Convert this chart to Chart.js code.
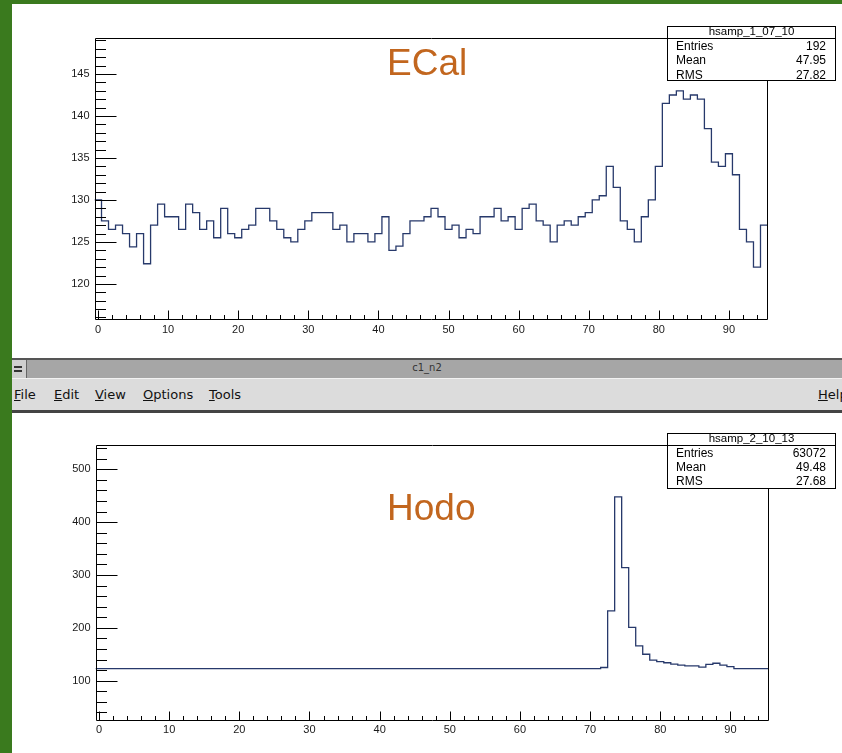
<!DOCTYPE html>
<html>
<head>
<meta charset="utf-8">
<script src="https://cdn.jsdelivr.net/npm/chart.js@4.4.1/dist/chart.umd.min.js"></script>
<style>
  html, body { margin: 0; padding: 0; }
  body {
    width: 842px; height: 753px; position: relative; overflow: hidden;
    background: #3a7a1e;
    font-family: "Liberation Sans", Arial, sans-serif;
  }
  .lienzo { position: absolute; left: 12px; width: 830px; background: #fff; }
  .lienzo canvas { position: absolute; left: 0; top: 0; }
  .etiqueta {
    position: absolute; font-size: 37px; line-height: 37px; color: #c2661e;
    white-space: nowrap;
  }
  .stats {
    position: absolute; width: 169px; background: #fff; border: 1px solid #000;
    box-sizing: border-box; font-size: 12px; color: #000;
  }
  .stats .tit {
    height: 11px; line-height: 9px; text-align: center; border-bottom: 1px solid #000;
    font-size: 11.5px;
  }
  .stats .fila {
    display: flex; justify-content: space-between; height: 14.3px; line-height: 14.3px;
    padding: 0 9px 0 8px;
  }
  .barraTitulo {
    position: absolute; left: 12px; top: 358px; width: 830px; height: 20px;
    background: #a6a6a6; border-top: 2px solid #555; box-sizing: border-box;
  }
  .barraTitulo .icono {
    position: absolute; left: 0; top: 0; width: 14px; height: 18px;
    background: #cfcfcf; border-right: 1px solid #666;
  }
  .barraTitulo .icono i { position: absolute; left: 2px; width: 8px; height: 2px; background: #333; }
  .barraTitulo .nombre {
    position: absolute; left: 0; width: 100%; top: 2px; text-align: center;
    font-family: "DejaVu Sans", sans-serif; font-size: 10px; color: #333;
  }
  .menu {
    position: absolute; left: 12px; top: 378px; width: 830px; height: 35px;
    background: #dcdcdc; border-top: 1px solid #f2f2f2; border-bottom: 3px solid #444;
    box-sizing: border-box;
  }
  .menu span {
    position: absolute; top: 8px; font-family: "DejaVu Sans", sans-serif; font-size: 13px; color: #111;
  }
</style>
</head>
<body>

<div class="lienzo" style="top:4px;height:354px">
  <canvas id="graficoEcal" width="830" height="354"></canvas>
</div>

<div class="barraTitulo">
  <div class="icono"><i style="top:6px"></i><i style="top:10px"></i></div>
  <div class="nombre">c1_n2</div>
</div>
<div class="menu">
  <span style="left:2px"><u>F</u>ile</span>
  <span style="left:42px"><u>E</u>dit</span>
  <span style="left:83px"><u>V</u>iew</span>
  <span style="left:131px"><u>O</u>ptions</span>
  <span style="left:197px"><u>T</u>ools</span>
  <span style="left:806px"><u>H</u>elp</span>
</div>

<div class="lienzo" style="top:413px;height:340px">
  <canvas id="graficoHodo" width="830" height="340"></canvas>
</div>

<div class="etiqueta" style="left:387px;top:43.7px">ECal</div>
<div class="etiqueta" style="left:387px;top:488.5px">Hodo</div>

<div class="stats" style="left:667px;top:26px;height:55px">
  <div class="tit">hsamp_1_07_10</div>
  <div class="fila"><span>Entries</span><span>192</span></div>
  <div class="fila"><span>Mean</span><span>47.95</span></div>
  <div class="fila"><span>RMS</span><span>27.82</span></div>
</div>
<div class="stats" style="left:667px;top:432.5px;height:56px">
  <div class="tit">hsamp_2_10_13</div>
  <div class="fila"><span>Entries</span><span>63072</span></div>
  <div class="fila"><span>Mean</span><span>49.48</span></div>
  <div class="fila"><span>RMS</span><span>27.68</span></div>
</div>

<script>
// canales de muestreo (centro de cada bin, ancho 1)
const canales = Array.from({ length: 96 }, (_, i) => i);

const ecal = [
    130.0, 127.5, 126.5, 127.0, 126.0, 124.4, 126.0, 122.4, 127.0, 129.5,
    128.0, 128.0, 126.5, 129.5, 128.5, 126.5, 127.5, 125.5, 129.0, 126.0,
    125.5, 126.5, 127.0, 129.0, 129.0, 127.5, 126.5, 125.5, 125.0, 126.5,
    127.5, 128.5, 128.5, 128.5, 126.5, 127.0, 125.0, 126.0, 126.0, 125.0,
    126.0, 128.0, 124.0, 124.5, 126.0, 127.5, 127.5, 128.0, 129.0, 128.0,
    126.5, 127.0, 125.5, 126.5, 126.0, 128.0, 128.0, 129.0, 127.5, 128.0,
    126.5, 129.0, 129.5, 127.5, 127.0, 125.0, 127.0, 127.5, 127.0, 128.0,
    128.5, 130.0, 130.5, 134.0, 131.5, 127.5, 126.5, 125.0, 128.0, 130.0,
    134.0, 141.5, 142.5, 143.0, 142.0, 142.5, 142.0, 138.5, 134.5, 134.0,
    135.5, 133.0, 126.5, 125.0, 122.0, 127.0,
];

const hodo = [
    123, 123, 123, 123, 123, 123, 123, 123, 123, 123,
    123, 123, 123, 123, 123, 123, 123, 123, 123, 123,
    123, 123, 123, 123, 123, 123, 123, 123, 123, 123,
    123, 123, 123, 123, 123, 123, 123, 123, 123, 123,
    123, 123, 123, 123, 123, 123, 123, 123, 123, 123,
    123, 123, 123, 123, 123, 123, 123, 123, 123, 123,
    123, 123, 123, 123, 123, 123, 123, 123, 123, 123,
    123, 123, 125, 232, 448, 314, 201, 166, 150, 139,
    136, 134, 131.5, 129.5, 128, 128, 125.5, 131, 133, 129.5,
    126.5, 123, 123, 123, 123, 123,
];

const etiquetasX = [0, 10, 20, 30, 40, 50, 60, 70, 80, 90];
const ecalEtiquetasY = [120, 125, 130, 135, 140, 145];
const hodoEtiquetasY = [100, 200, 300, 400, 500];

const colorLinea = "#27396b";
const fuenteEjes = { family: "'Liberation Sans', Arial, sans-serif", size: 11 };

// puntos en el borde izquierdo de cada bin + cierre en el borde derecho del último
function puntosHisto(valores) {
    const pts = canales.map((c, i) => ({ x: c - 0.5, y: valores[i] }));
    pts.push({ x: canales[canales.length - 1] + 0.5, y: valores[valores.length - 1] });
    return pts;
}

// marco y marcas hacia adentro, al estilo de ROOT
const marcoRoot = {
    id: "marcoRoot",
    afterDatasetsDraw(chart, args, opts) {
        const { ctx, chartArea: area, scales } = chart;
        const izq = Math.round(area.left) + 0.5;
        const der = Math.round(area.right) - 0.5;
        const arr = Math.round(area.top) + 0.5;
        const abj = Math.round(area.bottom) - 0.5;
        ctx.save();
        ctx.strokeStyle = "#000";
        ctx.lineWidth = 1;
        ctx.beginPath();
        ctx.rect(izq, arr, der - izq, abj - arr);

        const y = scales.y;
        for (let k = Math.ceil(y.min / opts.pasoY); k * opts.pasoY <= y.max; k++) {
            const v = k * opts.pasoY;
            const py = Math.round(y.getPixelForValue(v)) + 0.5;
            const largo = opts.mayoresY.includes(v) ? 21 : 10.5;
            ctx.moveTo(izq, py);
            ctx.lineTo(izq + largo, py);
        }
        const x = scales.x;
        for (let k = Math.ceil(x.min / opts.pasoX); k * opts.pasoX <= x.max; k++) {
            const v = k * opts.pasoX;
            const px = Math.round(x.getPixelForValue(v)) + 0.5;
            const largo = etiquetasX.includes(v) ? 9 : 4.5;
            ctx.moveTo(px, abj);
            ctx.lineTo(px, abj - largo);
        }
        ctx.stroke();
        ctx.restore();
    },
};

function opcionesHisto(caja, ejeY) {
    return {
        responsive: false,
        animation: false,
        events: [],
        layout: { padding: { top: caja.arriba, right: caja.derecha, left: 0, bottom: 0 } },
        scales: {
            x: {
                type: "linear",
                bounds: "data",
                min: -0.5,
                max: 95.5,
                afterBuildTicks: (s) => { s.ticks = etiquetasX.map((v) => ({ value: v })); },
                afterFit: (s) => { s.height = caja.altoX; },
                grid: { display: false, drawTicks: false },
                border: { display: false },
                ticks: { font: fuenteEjes, color: "#1a1a1a", padding: 3, maxRotation: 0, autoSkip: false },
            },
            y: {
                type: "linear",
                bounds: "data",
                min: ejeY.min,
                max: ejeY.max,
                afterBuildTicks: (s) => { s.ticks = ejeY.etiquetas.map((v) => ({ value: v })); },
                afterFit: (s) => { s.width = caja.anchoY; },
                grid: { display: false, drawTicks: false },
                border: { display: false },
                ticks: { font: fuenteEjes, color: "#1a1a1a", padding: 5, autoSkip: false },
            },
        },
        plugins: {
            legend: { display: false },
            tooltip: { enabled: false },
            marcoRoot: { pasoX: 2, pasoY: ejeY.paso, mayoresY: ejeY.etiquetas },
        },
    };
}

new Chart(document.getElementById("graficoEcal"), {
    type: "line",
    data: {
        datasets: [
            {
                label: "hsamp_1_07_10",
                data: puntosHisto(ecal),
                stepped: true,
                borderColor: colorLinea,
                borderWidth: 1.3,
                pointRadius: 0,
                fill: false,
            },
        ],
    },
    options: opcionesHisto(
        { arriba: 33.5, derecha: 74.5, anchoY: 82.5, altoX: 38 },
        { min: 115.7, max: 149.35, paso: 1, etiquetas: ecalEtiquetasY }
    ),
    plugins: [marcoRoot],
});

new Chart(document.getElementById("graficoHodo"), {
    type: "line",
    data: {
        datasets: [
            {
                label: "hsamp_2_10_13",
                data: puntosHisto(hodo),
                stepped: true,
                borderColor: colorLinea,
                borderWidth: 1.3,
                pointRadius: 0,
                fill: false,
            },
        ],
    },
    options: opcionesHisto(
        { arriba: 32, derecha: 73, anchoY: 83.5, altoX: 32.3 },
        { min: 24.3, max: 546, paso: 20, etiquetas: hodoEtiquetasY }
    ),
    plugins: [marcoRoot],
});
</script>
</body>
</html>
